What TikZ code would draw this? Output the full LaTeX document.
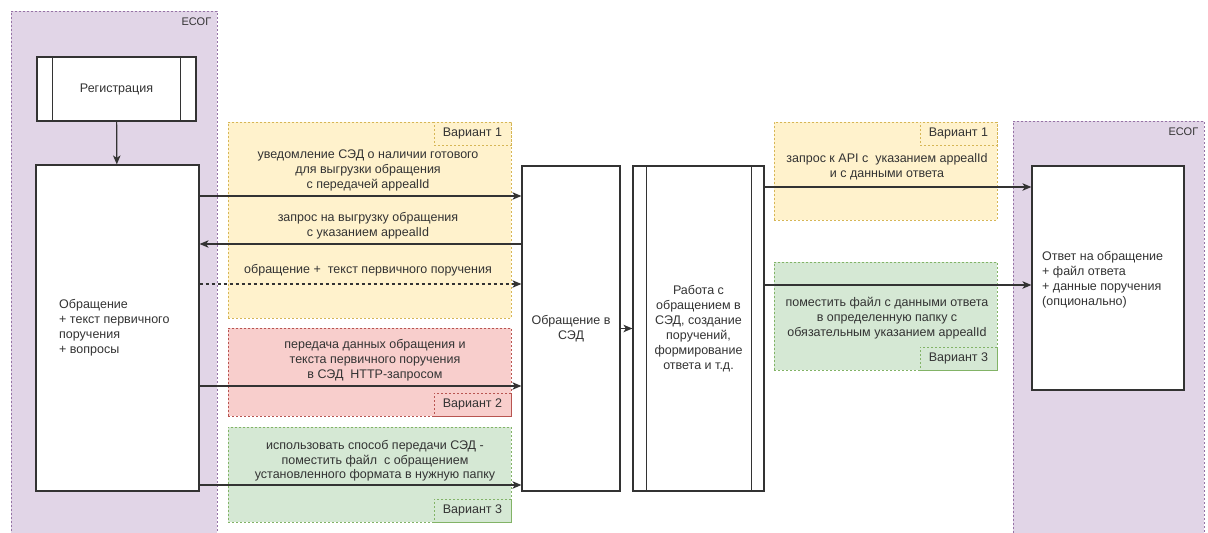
\documentclass[tikz,border=0pt]{standalone}
\usepackage{fontspec}
\setmainfont{Liberation Sans}
\usetikzlibrary{arrows.meta}

\definecolor{ink}{HTML}{333333}
\definecolor{purplefill}{HTML}{E1D5E7}
\definecolor{purpleline}{HTML}{9673A6}
\definecolor{yellowfill}{HTML}{FFF2CC}
\definecolor{yellowline}{HTML}{D6B656}
\definecolor{redfill}{HTML}{F8CECC}
\definecolor{redline}{HTML}{B85450}
\definecolor{greenfill}{HTML}{D5E8D4}
\definecolor{greenline}{HTML}{82B366}

\tikzset{
  zone/.style={draw=#1line, fill=#1fill, line width=0.8pt, dash pattern=on 2pt off 2pt, inner sep=0pt},
  tag/.style={zone=#1, minimum width=77pt, minimum height=23pt, text=ink, font=\fontsize{12.5}{15}\selectfont},
  box/.style={draw=ink, fill=white, line width=1.2pt, inner sep=0pt},
  txt/.style={text=ink, font=\fontsize{12.5}{15}\selectfont, align=center, inner sep=0pt},
  flow/.style={draw=ink, line width=1.2pt, -{Stealth[length=9pt,width=7.5pt,inset=2.5pt]}},
}

\begin{document}
\begin{tikzpicture}[x=1pt,y=-1pt]
\useasboundingbox (0,0) rectangle (1208,533);
\fill[white] (0,0) rectangle (1208,533);

% ESOG containers
\node[zone=purple, minimum width=206pt, minimum height=530pt] (esogl) at (114,276) {};
\node[txt, font=\fontsize{11}{12}\selectfont, anchor=north east] (esogltxt) at ([xshift=-6pt,yshift=-7pt]esogl.north east) {ЕСОГ};
\node[zone=purple, minimum width=191pt, minimum height=420pt] (esogr) at (1108.5,331) {};
\node[txt, font=\fontsize{11}{12}\selectfont, anchor=north east] (esogrtxt) at ([xshift=-6pt,yshift=-7pt]esogr.north east) {ЕСОГ};

% variants
\node[zone=yellow, minimum width=283pt, minimum height=196pt] (var1l) at (369.5,220) {};
\node[tag=yellow, anchor=north east] (tag1l) at (var1l.north east) {Вариант 1};
\node[zone=red, minimum width=283pt, minimum height=88pt] (var2l) at (369.5,372) {};
\node[tag=red, anchor=south east] (tag2l) at (var2l.south east) {Вариант 2};
\node[zone=green, minimum width=283pt, minimum height=95pt] (var3l) at (369.5,474.5) {};
\node[tag=green, anchor=south east] (tag3l) at (var3l.south east) {Вариант 3};
\node[zone=yellow, minimum width=223pt, minimum height=98pt] (var1r) at (885.5,171) {};
\node[tag=yellow, anchor=north east] (tag1r) at (var1r.north east) {Вариант 1};
\node[zone=green, minimum width=223pt, minimum height=108pt] (var3r) at (885.5,316) {};
\node[tag=green, anchor=south east] (tag3r) at (var3r.south east) {Вариант 3};

% boxes
\node[box, minimum width=159pt, minimum height=64pt, txt] (reg) at (116.5,89) {Регистрация};
\draw[ink, line width=1.2pt] ([xshift=16pt]reg.north west) -- ([xshift=16pt]reg.south west);
\draw[ink, line width=1.2pt] ([xshift=-16pt]reg.north east) -- ([xshift=-16pt]reg.south east);
\node[box, minimum width=163pt, minimum height=326pt] (appeal) at (117.5,328) {};
\node[txt, align=left, anchor=west] (appealtxt) at (59,328) {Обращение\\+ текст первичного\\поручения\\+ вопросы};
\node[box, minimum width=98pt, minimum height=325pt, txt] (sedin) at (571,328.5) {Обращение в\\СЭД};
\node[box, minimum width=131pt, minimum height=325pt, txt] (work) at (698.5,328.5)
  {Работа с\\обращением в\\СЭД, создание\\поручений,\\формирование\\ответа и т.д.};
\draw[ink, line width=1.2pt] ([xshift=14pt]work.north west) -- ([xshift=14pt]work.south west);
\draw[ink, line width=1.2pt] ([xshift=-13pt]work.north east) -- ([xshift=-13pt]work.south east);
\node[box, minimum width=152pt, minimum height=224pt] (answer) at (1108,278) {};
\node[txt, align=left, anchor=west] (answertxt) at (1042,279.5) {Ответ на обращение\\+ файл ответа\\+ данные поручения\\(опционально)};

% labels
\node[txt] (t1) at (368,170) {уведомление СЭД о наличии готового\\для выгрузки обращения\\с передачей appealId};
\node[txt] (t2) at (368,226) {запрос на выгрузку обращения\\с указанием appealId};
\node[txt] (t3) at (368,270) {обращение +\ \ текст первичного поручения};
\node[txt] (t4) at (375,360) {передача данных обращения и\\текста первичного поручения\\в СЭД\ \ HTTP-запросом};
\node[txt, font=\fontsize{12.5}{14.5}\selectfont] (t5) at (375,461) {использовать способ передачи СЭД -\\поместить файл\ \ с обращением\\установленного формата в нужную папку};
\node[txt] (t6) at (887,167) {запрос к API с\ \ указанием appealId\\и с данными ответа};
\node[txt] (t7) at (887,318) {поместить файл с данными ответа\\в определенную папку с\\обязательным указанием appealId};

% rows
\coordinate (r1) at (0,196);
\coordinate (r2) at (0,244);
\coordinate (r3) at (0,284);
\coordinate (r4) at (0,386);
\coordinate (r5) at (0,485);
\coordinate (q1) at (0,187);
\coordinate (q2) at (0,285);

% connectors
\draw[flow] (reg) -- (appeal);
\draw[flow] (appeal.east |- r1) -- (sedin.west |- r1);
\draw[flow] (sedin.west |- r2) -- (appeal.east |- r2);
\draw[flow, dash pattern=on 3pt off 3pt] (appeal.east |- r3) -- (sedin.west |- r3);
\draw[flow] (appeal.east |- r4) -- (sedin.west |- r4);
\draw[flow] (appeal.east |- r5) -- (sedin.west |- r5);
\draw[flow] (sedin) -- (work);
\draw[flow] (work.east |- q1) -- (answer.west |- q1);
\draw[flow] (work.east |- q2) -- (answer.west |- q2);
\end{tikzpicture}
\end{document}
